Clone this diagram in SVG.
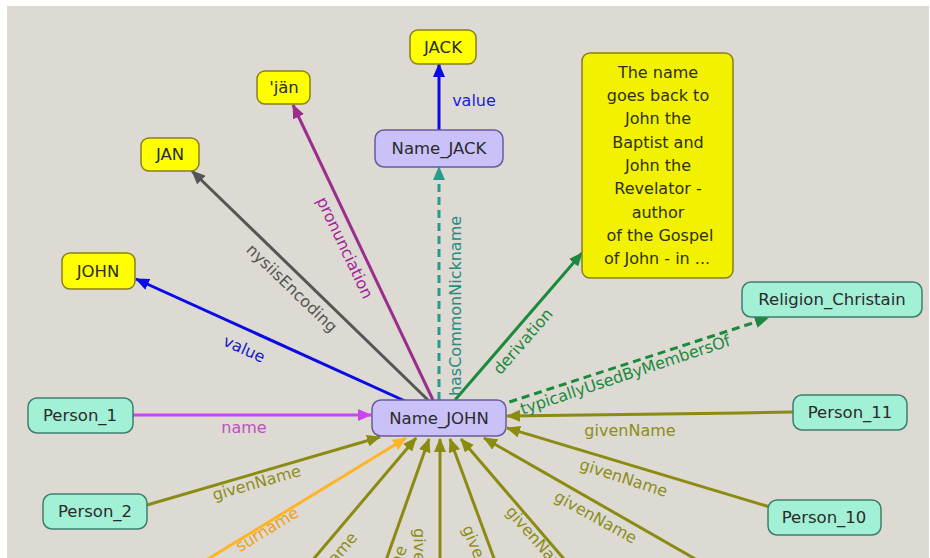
<svg xmlns="http://www.w3.org/2000/svg" width="930" height="558" viewBox="0 0 930 558">
<style>
.bg{fill:#dcdad2}
.nt{font-family:"DejaVu Sans","Liberation Sans",sans-serif;font-size:16.5px;fill:#2b2b2b;text-anchor:middle}
.bt{font-family:"DejaVu Sans","Liberation Sans",sans-serif;font-size:16px;fill:#303010;text-anchor:middle}
.lb{font-family:"DejaVu Sans","Liberation Sans",sans-serif;font-size:16px;text-anchor:middle}
.yel{fill:#ffff00;stroke:#8a7e20;stroke-width:1.5}
.pur{fill:#c9c1f7;stroke:#6a5aa0;stroke-width:1.5}
.tea{fill:#a2f0d6;stroke:#3f7d6c;stroke-width:1.5}
.e{fill:none;stroke-width:3}
.ol{stroke:#8b8b12}
.olt{fill:#8d8d1a}
</style>
<defs>
<marker id="m-blue" viewBox="0 0 14 12" refX="13" refY="6" markerWidth="14" markerHeight="12" markerUnits="userSpaceOnUse" orient="auto"><path d="M0,0 L14,6 L0,12 z" fill="#0a0ae6"/></marker>
<marker id="m-gray" viewBox="0 0 14 12" refX="13" refY="6" markerWidth="14" markerHeight="12" markerUnits="userSpaceOnUse" orient="auto"><path d="M0,0 L14,6 L0,12 z" fill="#555555"/></marker>
<marker id="m-purp" viewBox="0 0 14 12" refX="13" refY="6" markerWidth="14" markerHeight="12" markerUnits="userSpaceOnUse" orient="auto"><path d="M0,0 L14,6 L0,12 z" fill="#9b2d8f"/></marker>
<marker id="m-teal" viewBox="0 0 14 12" refX="13" refY="6" markerWidth="14" markerHeight="12" markerUnits="userSpaceOnUse" orient="auto"><path d="M0,0 L14,6 L0,12 z" fill="#2a9a8c"/></marker>
<marker id="m-green" viewBox="0 0 14 12" refX="13" refY="6" markerWidth="14" markerHeight="12" markerUnits="userSpaceOnUse" orient="auto"><path d="M0,0 L14,6 L0,12 z" fill="#1c8a3c"/></marker>
<marker id="m-mag" viewBox="0 0 14 12" refX="13" refY="6" markerWidth="14" markerHeight="12" markerUnits="userSpaceOnUse" orient="auto"><path d="M0,0 L14,6 L0,12 z" fill="#cc44ee"/></marker>
<marker id="m-olive" viewBox="0 0 14 12" refX="13" refY="6" markerWidth="14" markerHeight="12" markerUnits="userSpaceOnUse" orient="auto"><path d="M0,0 L14,6 L0,12 z" fill="#8b8b12"/></marker>
<marker id="m-orange" viewBox="0 0 14 12" refX="13" refY="6" markerWidth="14" markerHeight="12" markerUnits="userSpaceOnUse" orient="auto"><path d="M0,0 L14,6 L0,12 z" fill="#ffb428"/></marker>
</defs>
<rect x="0" y="0" width="930" height="558" fill="#ffffff"/>
<rect class="bg" x="7" y="6" width="922" height="552"/>

<g id="connectors">
<path class="e" d="M405,401 L136,279" stroke="#0a0ae6" marker-end="url(#m-blue)"/>
<path class="e" d="M428,400 L192,171" stroke="#555555" marker-end="url(#m-gray)"/>
<path class="e" d="M433,400 L293,105" stroke="#9b2d8f" marker-end="url(#m-purp)"/>
<path class="e" d="M439,400 L439,167" stroke="#2a9a8c" stroke-dasharray="8,5" marker-end="url(#m-teal)"/>
<path class="e" d="M439,130 L439,64" stroke="#0a0ae6" marker-end="url(#m-blue)"/>
<path class="e" d="M455,400 L582,253" stroke="#1c8a3c" marker-end="url(#m-green)"/>
<path class="e" d="M497,406 L768,318" stroke="#1c8a3c" stroke-dasharray="8,5" marker-end="url(#m-green)"/>
<path class="e" d="M133,415 L371,415" stroke="#cc44ee" marker-end="url(#m-mag)"/>
<path class="e ol" d="M793,412 L740,413 L507,416" marker-end="url(#m-olive)"/>
<path class="e ol" d="M770,507 L507,428" marker-end="url(#m-olive)"/>
<path class="e ol" d="M147,505 L380,437" marker-end="url(#m-olive)"/>
<path class="e" d="M190,570 L406,438" stroke="#ffb428" marker-end="url(#m-orange)"/>
<path class="e ol" d="M300,575 L416,438" marker-end="url(#m-olive)"/>
<path class="e ol" d="M379,580 L429,439" marker-end="url(#m-olive)"/>
<path class="e ol" d="M440,580 L440,439" marker-end="url(#m-olive)"/>
<path class="e ol" d="M502,580 L450,439" marker-end="url(#m-olive)"/>
<path class="e ol" d="M582,580 L461,439" marker-end="url(#m-olive)"/>
<path class="e ol" d="M732,580 L484,438" marker-end="url(#m-olive)"/>

<text class="lb" x="242" y="354" fill="#1a1acc" transform="rotate(24 242 354)">value</text>
<text class="lb" x="288" y="292" fill="#555555" transform="rotate(44 288 292)">nysiisEncoding</text>
<text class="lb" x="340" y="250" fill="#a3279a" transform="rotate(64.6 340 250)">pronunciation</text>
<text class="lb" x="461" y="306" fill="#2a8a80" transform="rotate(-90 461 306)">hasCommonNickname</text>
<text class="lb" x="474" y="106" fill="#1a1ae6">value</text>
<text class="lb" x="527" y="345" fill="#1c8a3c" transform="rotate(-49 527 345)">derivation</text>
<text class="lb" x="627" y="380" fill="#1c8a3c" transform="rotate(-18.4 627 380)">typicallyUsedByMembersOf</text>
<text class="lb" x="244" y="433" fill="#c050c0">name</text>
<text class="lb olt" x="630" y="436">givenName</text>
<text class="lb olt" x="622" y="483" transform="rotate(18 622 483)">givenName</text>
<text class="lb olt" x="258" y="488" transform="rotate(-16 258 488)">givenName</text>
<text class="lb" x="270" y="534" fill="#f0a018" transform="rotate(-31.5 270 534)">surname</text>
<text class="lb olt" x="358" y="538" style="text-anchor:end" transform="rotate(-50 358 538)">givenName</text>
<text class="lb olt" x="407" y="548" style="text-anchor:end" transform="rotate(-70 407 548)">givenName</text>
<text class="lb olt" x="414" y="528" style="text-anchor:start" transform="rotate(90 414 528)">givenName</text>
<text class="lb olt" x="462" y="528" style="text-anchor:start" transform="rotate(68 462 528)">givenName</text>
<text class="lb olt" x="505" y="512" style="text-anchor:start" transform="rotate(49 505 512)">givenName</text>
<text class="lb olt" x="593" y="522" transform="rotate(29 593 522)">givenName</text>
</g>

<g id="JACK"><rect class="yel" x="410" y="30" width="66" height="34" rx="8"/><text class="nt" x="443" y="53">JACK</text></g>
<g id="jan_pron"><rect class="yel" x="257" y="71" width="53" height="33" rx="8"/><text class="nt" x="284" y="93">'jän</text></g>
<g id="JAN"><rect class="yel" x="141" y="138" width="58" height="33" rx="8"/><text class="nt" x="170" y="160">JAN</text></g>
<g id="JOHN"><rect class="yel" x="62" y="253" width="73" height="36" rx="8"/><text class="nt" x="98" y="277">JOHN</text></g>
<g id="Name_JACK"><rect class="pur" x="375" y="130" width="128" height="37" rx="9"/><text class="nt" x="439" y="154">Name_JACK</text></g>
<g id="derivation_text"><rect class="yel" x="582" y="53" width="151" height="225" rx="8" style="fill:#f2f200"/>
<text class="bt" x="658" y="78">The name</text>
<text class="bt" x="658" y="101">goes back to</text>
<text class="bt" x="658" y="124">John the</text>
<text class="bt" x="658" y="148">Baptist and</text>
<text class="bt" x="658" y="171">John the</text>
<text class="bt" x="658" y="194">Revelator -</text>
<text class="bt" x="658" y="218">author</text>
<text class="bt" x="660" y="241">of the Gospel</text>
<text class="bt" x="657" y="264">of John - in ...</text>
</g>
<g id="Religion_Christain"><rect class="tea" x="742" y="282" width="180" height="35" rx="9"/><text class="nt" x="832" y="305">Religion_Christain</text></g>
<g id="Name_JOHN"><rect class="pur" x="372" y="400" width="134" height="36" rx="9"/><text class="nt" x="439" y="424">Name_JOHN</text></g>
<g id="Person_1"><rect class="tea" x="28" y="398" width="105" height="35" rx="9"/><text class="nt" x="80" y="421">Person_1</text></g>
<g id="Person_11"><rect class="tea" x="793" y="395" width="114" height="35" rx="9"/><text class="nt" x="850" y="418">Person_11</text></g>
<g id="Person_2"><rect class="tea" x="43" y="494" width="104" height="35" rx="9"/><text class="nt" x="95" y="517">Person_2</text></g>
<g id="Person_10"><rect class="tea" x="768" y="500" width="113" height="35" rx="9"/><text class="nt" x="824" y="523">Person_10</text></g>
</svg>
